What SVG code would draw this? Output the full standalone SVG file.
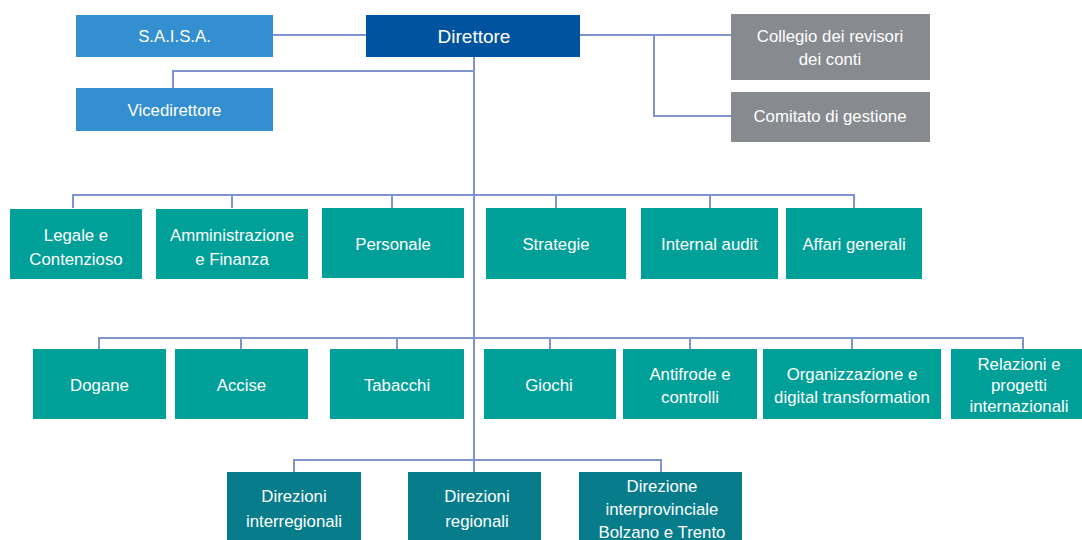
<svg xmlns="http://www.w3.org/2000/svg" width="1082" height="540" viewBox="0 0 1082 540">
<style>
text{font-family:"Liberation Sans",Arial,sans-serif;fill:#ffffff;font-size:16.8px;text-anchor:middle}
.top{fill:#338fcf}
.dir{fill:#00539f}
.grey{fill:#878a8f}
.teal{fill:#00a098}
.dteal{fill:#077d8b}
.conn line,.conn polyline{stroke:#7f93cf;stroke-width:2;fill:none}
</style>
<rect width="1082" height="540" fill="#ffffff"/>
<g class="conn">
<line x1="273" y1="35" x2="366" y2="35"/>
<line x1="580" y1="35" x2="731" y2="35"/>
<polyline points="654,35 654,116 731,116"/>
<line x1="474" y1="57" x2="474" y2="472"/>
<polyline points="474,71 173,71 173,88"/>
<polyline points="73,208 73,195 854,195 854,208"/>
<line x1="232" y1="195" x2="232" y2="208"/>
<line x1="392" y1="195" x2="392" y2="208"/>
<line x1="556" y1="195" x2="556" y2="208"/>
<line x1="710" y1="195" x2="710" y2="208"/>
<polyline points="99,349 99,338 1023,338 1023,349"/>
<line x1="241" y1="338" x2="241" y2="349"/>
<line x1="397" y1="338" x2="397" y2="349"/>
<line x1="550" y1="338" x2="550" y2="349"/>
<line x1="690" y1="338" x2="690" y2="349"/>
<line x1="852" y1="338" x2="852" y2="349"/>
<polyline points="294,472 294,460 661,460 661,472"/>
</g>
<g id="saisa"><rect class="top" x="76" y="15" width="197" height="42"/><text x="174.5" y="42">S.A.I.S.A.</text></g>
<g id="direttore"><rect class="dir" x="366" y="15" width="214" height="42"/><text x="474" y="43" style="font-size:19px">Direttore</text></g>
<g id="collegio"><rect class="grey" x="731" y="14" width="199" height="66"/><text x="830" y="42">Collegio dei revisori</text><text x="830" y="65">dei conti</text></g>
<g id="comitato"><rect class="grey" x="731" y="92" width="199" height="50"/><text x="830" y="122">Comitato di gestione</text></g>
<g id="vicedirettore"><rect class="top" x="76" y="88" width="197" height="43"/><text x="174.5" y="116">Vicedirettore</text></g>

<g id="legale"><rect class="teal" x="10" y="209" width="132" height="70"/><text x="76" y="241">Legale e</text><text x="76" y="265">Contenzioso</text></g>
<g id="amministrazione"><rect class="teal" x="156" y="209" width="152" height="70"/><text x="232" y="241">Amministrazione</text><text x="232" y="265">e Finanza</text></g>
<g id="personale"><rect class="teal" x="322" y="208" width="142" height="70"/><text x="393" y="250">Personale</text></g>
<g id="strategie"><rect class="teal" x="486" y="208" width="140" height="71"/><text x="556" y="250">Strategie</text></g>
<g id="internal-audit"><rect class="teal" x="641" y="208" width="137" height="71"/><text x="709.5" y="250">Internal audit</text></g>
<g id="affari-generali"><rect class="teal" x="786" y="208" width="136" height="71"/><text x="854" y="250">Affari generali</text></g>

<g id="dogane"><rect class="teal" x="33" y="349" width="133" height="70"/><text x="99.5" y="391">Dogane</text></g>
<g id="accise"><rect class="teal" x="175" y="349" width="133" height="70"/><text x="241.5" y="391">Accise</text></g>
<g id="tabacchi"><rect class="teal" x="330" y="349" width="134" height="70"/><text x="397" y="391">Tabacchi</text></g>
<g id="giochi"><rect class="teal" x="484" y="349" width="132" height="70"/><text x="549" y="391">Giochi</text></g>
<g id="antifrode"><rect class="teal" x="623" y="349" width="134" height="70"/><text x="690" y="380">Antifrode e</text><text x="690" y="403">controlli</text></g>
<g id="organizzazione"><rect class="teal" x="763" y="349" width="178" height="70"/><text x="852" y="380">Organizzazione e</text><text x="852" y="403">digital transformation</text></g>
<g id="relazioni"><rect class="teal" x="951" y="349" width="131" height="70"/><text x="1019" y="370">Relazioni e</text><text x="1019" y="391">progetti</text><text x="1019" y="412">internazionali</text></g>

<g id="direzioni-interregionali"><rect class="dteal" x="227" y="472" width="134" height="68"/><text x="294" y="502">Direzioni</text><text x="294" y="527">interregionali</text></g>
<g id="direzioni-regionali"><rect class="dteal" x="408" y="472" width="133" height="68"/><text x="477" y="502">Direzioni</text><text x="477" y="527">regionali</text></g>
<g id="direzione-interprovinciale"><rect class="dteal" x="579" y="472" width="163" height="68"/><text x="662" y="492">Direzione</text><text x="662" y="515">interprovinciale</text><text x="662" y="538">Bolzano e Trento</text></g>
</svg>
